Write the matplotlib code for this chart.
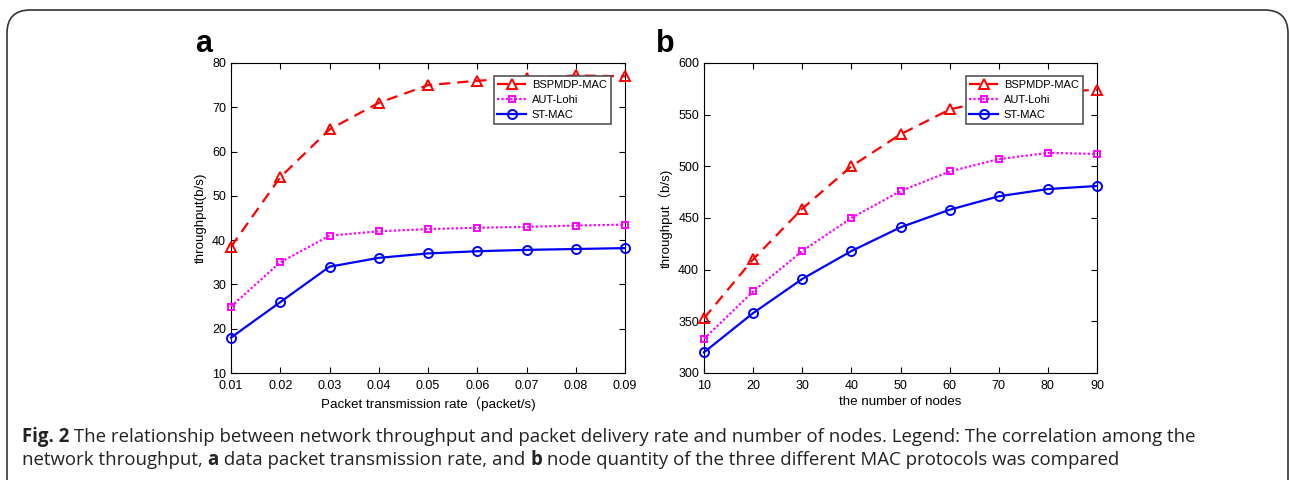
import matplotlib
matplotlib.use("Agg")
import matplotlib.pyplot as plt
from matplotlib.patches import FancyBboxPatch

plt.rcParams['font.family'] = ['Liberation Sans', 'DejaVu Sans']

rate = [0.01, 0.02, 0.03, 0.04, 0.05, 0.06, 0.07, 0.08, 0.09]
a_bspmdp = [38.5, 54.2, 65, 71, 75, 76, 76.6, 77.2, 77]
a_aut = [25, 35, 41, 42, 42.5, 42.8, 43, 43.3, 43.5]
a_st = [18, 26, 34, 36, 37, 37.5, 37.8, 38, 38.2]

nodes = [10, 20, 30, 40, 50, 60, 70, 80, 90]
b_bspmdp = [353, 410, 459, 500, 531, 555, 566, 572, 574]
b_aut = [333, 379, 418, 450, 476, 495, 507, 513, 512]
b_st = [320, 358, 391, 418, 441, 458, 471, 478, 481]

series_names = ['BSPMDP-MAC', 'AUT-Lohi', 'ST-MAC']

caption_line1 = [('Fig. 2', True),
                 (' The relationship between network throughput and packet delivery rate and number of nodes. Legend: The correlation among the', False)]
caption_line2 = [('network throughput, ', False), ('a', True), (' data packet transmission rate, and ', False),
                 ('b', True), (' node quantity of the three different MAC protocols was compared', False)]

fig = plt.figure(figsize=(12.9, 4.8), dpi=100)
W, H = 1290, 480

border = FancyBboxPatch((7 / W, -30 / H), (1288 - 7) / W, (H - 10 + 30) / H,
                        boxstyle="round,pad=0,rounding_size=0.018",
                        transform=fig.transFigure, fill=False,
                        edgecolor='#333333', linewidth=1.2, clip_on=False,
                        mutation_aspect=W / H)
fig.patches.append(border)

def make_ax(left, right):
    top, bottom = 63, 373
    return fig.add_axes([left / W, (H - bottom) / H, (right - left) / W, (bottom - top) / H])

def style(ax):
    ax.tick_params(direction='in', top=True, right=True, labelsize=9, length=4, width=0.8)
    ax.tick_params(axis='x', pad=5)
    for s in ax.spines.values():
        s.set_linewidth(0.8)

def draw(ax, x, ys):
    styles = [
        dict(color='#ff0000', ls=(0, (5, 3.2)), marker='^', ms=7.5),
        dict(color='#ff00ff', ls=(0, (1, 1)), marker='s', ms=5),
        dict(color='#0000ff', ls='-', marker='o', ms=6.5),
    ]
    for y, st, name in zip(ys, styles, series_names):
        ax.plot(x, y, color=st['color'], linestyle=st['ls'], marker=st['marker'],
                markersize=st['ms'], markerfacecolor='none', markeredgecolor=st['color'],
                markeredgewidth=1.4, linewidth=1.6, label=name, clip_on=False, zorder=3)
    leg = ax.legend(loc='upper right', bbox_to_anchor=(0.978, 0.975), fontsize=8,
                    fancybox=False, framealpha=1, edgecolor='#555555',
                    handlelength=2.6, borderpad=0.35, labelspacing=0.45, handletextpad=0.5)
    leg.get_frame().set_linewidth(1.2)
    leg.set_zorder(5)

ax1 = make_ax(231, 625)
draw(ax1, rate, [a_bspmdp, a_aut, a_st])
ax1.set_xlim(0.01, 0.09)
ax1.set_ylim(10, 80)
ax1.set_xticks(rate)
ax1.set_xticklabels(['%.2f' % v for v in rate])
ax1.set_yticks(range(10, 81, 10))
ax1.set_xlabel('Packet transmission rate（packet/s)', fontsize=9.6, labelpad=3,
               family=['Liberation Sans', 'Noto Sans CJK SC'])
ax1.set_ylabel('throughput(b/s)', fontsize=9.6, labelpad=4)
style(ax1)

ax2 = make_ax(704, 1097)
draw(ax2, nodes, [b_bspmdp, b_aut, b_st])
ax2.set_xlim(10, 90)
ax2.set_ylim(300, 600)
ax2.set_xticks(nodes)
ax2.set_yticks(range(300, 601, 50))
ax2.set_xlabel('the number of nodes', fontsize=9.6, labelpad=3)
ax2.set_ylabel('throughput（b/s)', fontsize=9.6, labelpad=4,
               family=['Liberation Sans', 'Noto Sans CJK SC'])
style(ax2)

fig.text(195 / W, 1 - 44 / H, 'a', fontsize=22, fontweight='bold', va='center', ha='left')
fig.text(656 / W, 1 - 44 / H, 'b', fontsize=22, fontweight='bold', va='center', ha='left')

# caption, laid out piece by piece
renderer = fig.canvas.get_renderer()
cap_family = ['Open Sans']

def line_width(pieces, size):
    total = 0
    for txt, bold in pieces:
        t = fig.text(0, 0, txt, fontsize=size, family=cap_family,
                     fontweight='bold' if bold else 'normal')
        total += t.get_window_extent(renderer).width
        t.remove()
    return total

target = 1198 - 22
size = 11.0
size = size * target / line_width(caption_line1, size)

def place(pieces, x0, y, size):
    x = x0
    for txt, bold in pieces:
        t = fig.text(x / W, 1 - y / H, txt, fontsize=size, family=cap_family,
                     fontweight='bold' if bold else 'normal', va='center', ha='left',
                     color='#222222')
        x += t.get_window_extent(renderer).width

place(caption_line1, 22, 437, size)
place(caption_line2, 22, 460, size)

fig.savefig('out.png', dpi=100)
